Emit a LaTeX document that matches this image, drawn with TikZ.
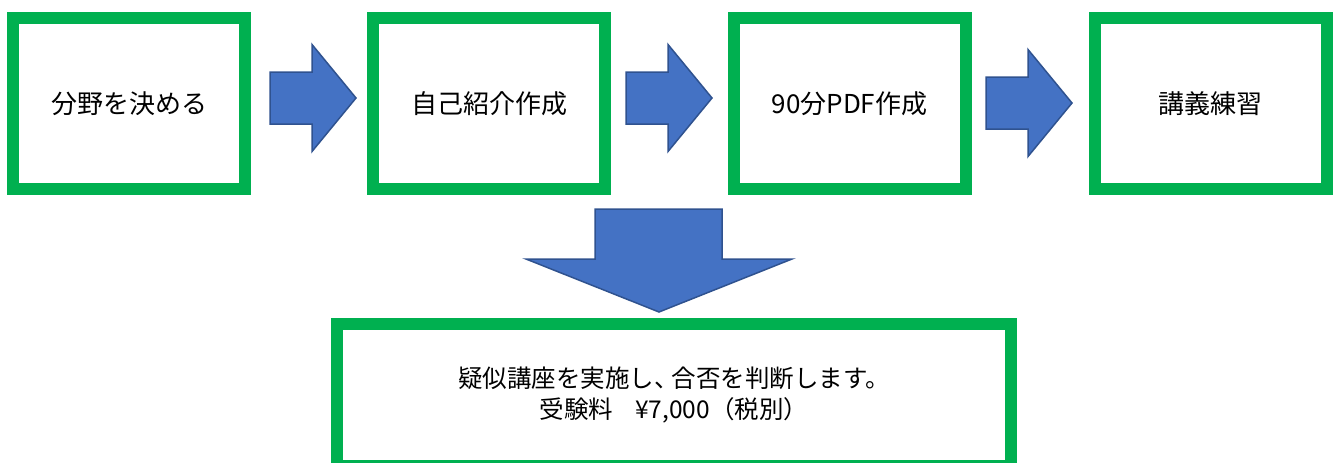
\documentclass[tikz,border=0pt]{standalone}
\usepackage{fontspec}
\newfontfamily\jpfont{Noto Sans CJK JP}
\definecolor{boxgreen}{HTML}{00B050}
\definecolor{arrowblue}{HTML}{4472C4}
\definecolor{arrowedge}{HTML}{2F528F}
\tikzset{
  stepbox/.style={draw=boxgreen, line width=12pt, fill=white, inner sep=0pt,
    minimum width=232pt, minimum height=171.5pt,
    font=\jpfont\fontsize{26}{31}\selectfont},
  blockarrow/.style={fill=arrowblue, draw=arrowedge, line width=1.5pt, line join=miter}
}
% right block arrow: tail x, axis y
\newcommand{\rightblock}[2]{%
  \draw[blockarrow] (#1,#2-26) -- (#1+42,#2-26) -- (#1+42,#2-53.5) -- (#1+86,#2)
    -- (#1+42,#2+53.5) -- (#1+42,#2+26) -- (#1,#2+26) -- cycle;}
\begin{document}
\begin{tikzpicture}[x=1pt,y=-1pt]
\useasboundingbox (0,0) rectangle (1339,463);
\clip (0,0) rectangle (1339,463);
\node[stepbox] (field) at (129,103.5) {分野を決める};
\node[stepbox] (intro) at (489,103.5) {自己紹介作成};
\node[stepbox] (pdf) at (849.5,103.5) {90分PDF作成};
\node[stepbox] (practice) at (1210.5,103.5) {講義練習};
\rightblock{270}{98}
\rightblock{626}{98}
\rightblock{986}{103}
\draw[blockarrow] (595,209) -- (722,209) -- (722,259) -- (792,259) -- (659,312)
  -- (526,259) -- (595,259) -- cycle;
\node[stepbox, align=center, minimum width=674pt, minimum height=142pt,
  font=\jpfont\fontsize{24.5}{31}\selectfont] (trial) at (674,395)
  {疑似講座を実施し、\kern-0.3em 合否を判断します。\\受験料\hspace{0.9em}¥7,000（税別）};
\end{tikzpicture}
\end{document}
